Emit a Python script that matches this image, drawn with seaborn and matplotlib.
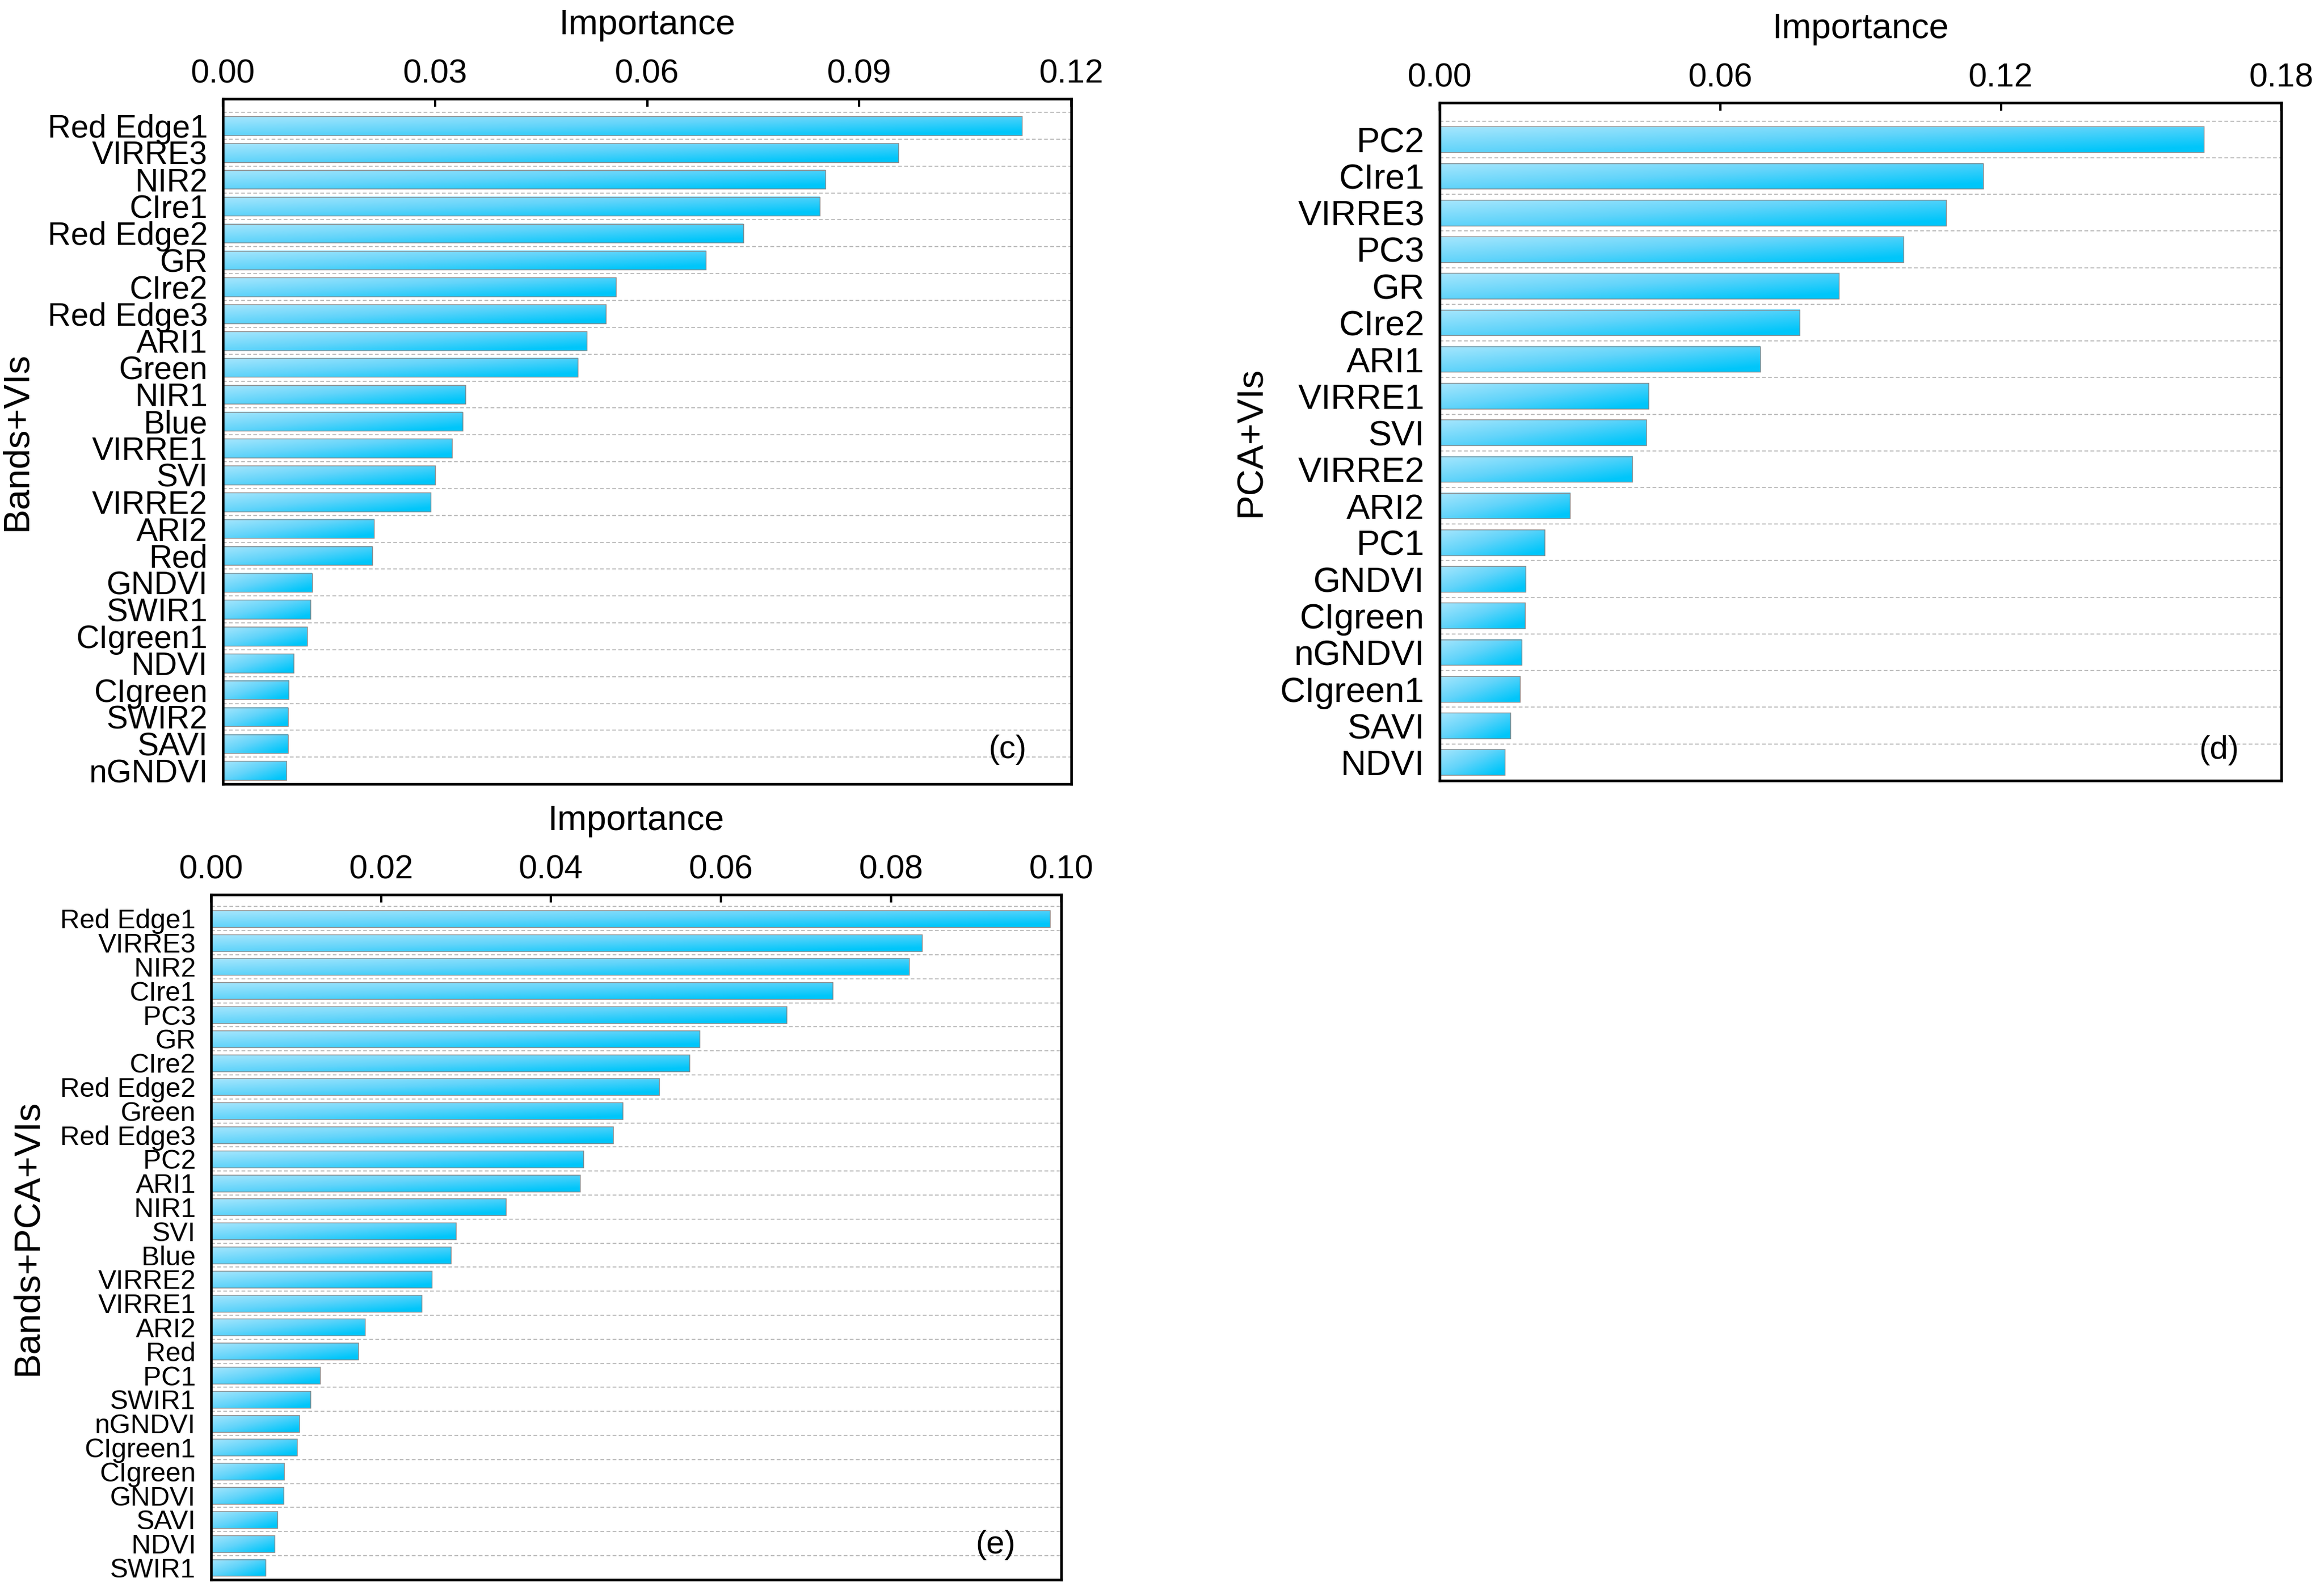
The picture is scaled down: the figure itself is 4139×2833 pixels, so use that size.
import numpy as np
import matplotlib
matplotlib.use("Agg")
import matplotlib.pyplot as plt
import seaborn as sns
from matplotlib.colors import LinearSegmentedColormap

# ---------------- data ----------------
c_labels = ["Red Edge1", "VIRRE3", "NIR2", "CIre1", "Red Edge2", "GR", "CIre2", "Red Edge3",
            "ARI1", "Green", "NIR1", "Blue", "VIRRE1", "SVI", "VIRRE2", "ARI2", "Red",
            "GNDVI", "SWIR1", "CIgreen1", "NDVI", "CIgreen", "SWIR2", "SAVI", "nGNDVI"]
c_values = [0.1130, 0.0955, 0.0852, 0.0844, 0.0736, 0.0683, 0.0556, 0.0542,
            0.0515, 0.0502, 0.0343, 0.0339, 0.0324, 0.0300, 0.0294, 0.0214, 0.0211,
            0.0126, 0.0124, 0.0119, 0.0100, 0.0093, 0.0092, 0.0092, 0.0090]
c_ticks = [0.00, 0.03, 0.06, 0.09, 0.12]

d_labels = ["PC2", "CIre1", "VIRRE3", "PC3", "GR", "CIre2", "ARI1", "VIRRE1", "SVI",
            "VIRRE2", "ARI2", "PC1", "GNDVI", "CIgreen", "nGNDVI", "CIgreen1", "SAVI", "NDVI"]
d_values = [0.1634, 0.1162, 0.1083, 0.0992, 0.0853, 0.0770, 0.0685, 0.0447, 0.0442,
            0.0412, 0.0279, 0.0224, 0.0183, 0.0182, 0.0175, 0.0172, 0.0151, 0.0139]
d_ticks = [0.00, 0.06, 0.12, 0.18]

e_labels = ["Red Edge1", "VIRRE3", "NIR2", "CIre1", "PC3", "GR", "CIre2", "Red Edge2",
            "Green", "Red Edge3", "PC2", "ARI1", "NIR1", "SVI", "Blue", "VIRRE2", "VIRRE1",
            "ARI2", "Red", "PC1", "SWIR1", "nGNDVI", "CIgreen1", "CIgreen", "GNDVI",
            "SAVI", "NDVI", "SWIR1"]
e_values = [0.0987, 0.0836, 0.0821, 0.0731, 0.0677, 0.0575, 0.0563, 0.0527,
            0.0484, 0.0473, 0.0438, 0.0434, 0.0347, 0.0288, 0.0282, 0.0260, 0.0248,
            0.0181, 0.0173, 0.0128, 0.0117, 0.0104, 0.0101, 0.0086, 0.0085,
            0.0078, 0.0075, 0.0064]
e_ticks = [0.00, 0.02, 0.04, 0.06, 0.08, 0.10]

# ---------------- style ----------------
sns.set_theme(style="white")
plt.rcParams["font.family"] = ["Liberation Sans", "DejaVu Sans"]

cmap = LinearSegmentedColormap.from_list("grad", ["#a6e6fd", "#62d4fa", "#00c6fa"])

fig = plt.figure(figsize=(4139 / 300, 2833 / 300), dpi=300)
axc = fig.add_axes([0.0959, 0.5072, 0.3651, 0.4306])
axd = fig.add_axes([0.6195, 0.5094, 0.3622, 0.4260])
axe = fig.add_axes([0.0908, 0.0071, 0.3658, 0.4306])


def draw(ax, labels, values, ticks, ylabel, tag, ysize, ylab_x, tag_xy):
    n = len(labels)
    pos = [str(i) for i in range(n)]
    sns.barplot(x=values, y=pos, orient="h", width=0.70, ax=ax, color="#00c6fa",
                edgecolor="#8a8a8a", linewidth=0.35)
    gx = np.linspace(0, 1, 200)[None, :]
    gy = np.linspace(0, 1, 40)[:, None]
    grad = np.clip(0.6 * gx + 0.5 * gy, 0, 1)
    for p in ax.patches:
        x0, y0, w, h = p.get_x(), p.get_y(), p.get_width(), p.get_height()
        ax.imshow(grad, cmap=cmap, vmin=0, vmax=1, extent=(x0, x0 + w, y0 + h, y0),
                  aspect="auto", interpolation="bilinear", zorder=1)
        p.set_facecolor("none")
        p.set_zorder(2)
    ax.set_xlim(ticks[0], ticks[-1])
    ax.set_ylim(n - 0.5, -1.0)
    ax.xaxis.tick_top()
    ax.xaxis.set_label_position("top")
    ax.set_xticks(ticks)
    ax.set_xticklabels([f"{t:.2f}" for t in ticks])
    ax.set_yticks(range(n))
    ax.set_yticklabels(labels)
    ax.set_yticks(np.arange(n) - 0.5, minor=True)
    ax.grid(False)
    ax.grid(axis="y", which="minor", linestyle=(0, (3.2, 2.0)), color="#c0c0c0", linewidth=0.5)
    ax.set_axisbelow(True)
    ax.tick_params(axis="x", which="major", direction="in", length=3.4, width=1.0,
                   labelsize=14.2, pad=4, top=True, bottom=False, colors="black")
    ax.tick_params(axis="y", which="both", length=0, labelsize=ysize, pad=6.5, colors="black")
    for s in ax.spines.values():
        s.set_visible(True)
        s.set_color("black")
        s.set_linewidth(1.1)
    ax.set_xlabel("Importance", fontsize=15.1, labelpad=10.5, color="black")
    ax.set_ylabel(ylabel, fontsize=15.7, color="black")
    ax.yaxis.set_label_coords(ylab_x, 0.5)
    ax.text(tag_xy[0], tag_xy[1], tag, transform=ax.transAxes, ha="center", va="center",
            fontsize=14, color="black")


draw(axc, c_labels, c_values, c_ticks, "Bands+VIs", "(c)", 13.7, -0.223, (0.9245, 0.050))
draw(axd, d_labels, d_values, d_ticks, "PCA+VIs", "(d)", 15.0, -0.204, (0.926, 0.045))
draw(axe, e_labels, e_values, e_ticks, "Bands+PCA+VIs", "(e)", 11.6, -0.196, (0.923, 0.051))

fig.savefig("out.png", dpi=300, facecolor="white")
